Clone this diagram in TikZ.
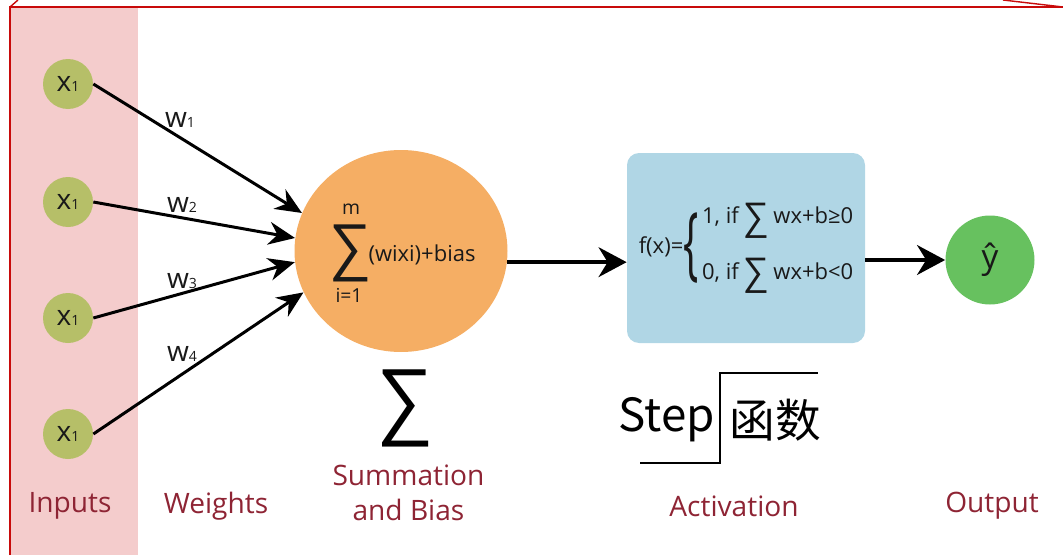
\documentclass[tikz,border=0pt]{standalone}
\usepackage{fontspec}
\setmainfont{Open Sans}
\newfontfamily\cjkfont{Noto Sans CJK SC}
\usepackage{xcolor}
\usetikzlibrary{arrows.meta, positioning, calc, shapes.geometric}

\definecolor{inputgreen}{RGB}{182,191,104}
\definecolor{sumorange}{RGB}{245,174,100}
\definecolor{actblue}{RGB}{176,214,229}
\definecolor{outgreen}{RGB}{103,193,95}
\definecolor{bandpink}{RGB}{244,204,204}
\definecolor{framered}{RGB}{200,10,10}
\definecolor{capred}{RGB}{142,36,52}

\newcommand{\idx}[1]{{\fontsize{8}{8}\selectfont #1}}
\newcommand{\bsum}{\raisebox{-3pt}{\fontsize{21}{21}\selectfont ∑}}
\newcommand{\bigbrace}{\scalebox{0.5}[1]{\fontsize{46}{46}\selectfont\{}}

\begin{document}
\begin{tikzpicture}[
    >={Stealth[length=15pt,width=13pt]},
    arrow/.style={->,line width=1.7pt},
    bigarrow/.style={-{Stealth[length=16pt,width=17pt]},line width=1.9pt},
    input/.style={circle,fill=inputgreen,minimum size=10mm,inner sep=0pt,font=\fontsize{16}{16}\selectfont,text=black!90},
    weight/.style={font=\fontsize{16}{16}\selectfont,text=black!90},
    stage/.style={font=\fontsize{16}{20}\selectfont,text=capred,align=center},
    sumtext/.style={font=\fontsize{12.5}{12.5}\selectfont,text=black!90,inner sep=0pt}
]

\useasboundingbox (0,0) rectangle (21.26,11.1);

%--------------------------------------------------------------------
% Background band and frame
%--------------------------------------------------------------------
\fill[bandpink] (0.2,0) rectangle (2.76,10.96);
\draw[framered,line width=1.7pt] (0.2,0) -- (0.2,10.96) -- (21.26,10.96);
\draw[framered,line width=0.8pt] (0.2,10.96) -- (0.36,11.1);
\draw[framered,line width=0.8pt] (20.06,11.1) -- (21.26,10.96);

%--------------------------------------------------------------------
% Inputs and weights
%--------------------------------------------------------------------
\node[input] (x1) at (1.36,9.42) {x\idx{1}};
\node[input] (x2) at (1.36,7.06) {x\idx{1}};
\node[input] (x3) at (1.36,4.74) {x\idx{1}};
\node[input] (x4) at (1.36,2.42) {x\idx{1}};

\node[weight] (w1) at (3.6,8.7)   {w\idx{1}};
\node[weight] (w2) at (3.64,7.0)  {w\idx{2}};
\node[weight] (w3) at (3.64,5.48) {w\idx{3}};
\node[weight] (w4) at (3.64,4.02) {w\idx{4}};

%--------------------------------------------------------------------
% Summation and bias
%--------------------------------------------------------------------
\node[ellipse,fill=sumorange,minimum width=4.26cm,minimum height=4.04cm] (sum) at (8.02,6.08) {};

\node[sumtext,font=\fontsize{34}{34}\selectfont] (sumsig) at (7.0,6.04) {∑};
\node[sumtext,font=\fontsize{11}{11}\selectfont] (sumtop) at (7.02,6.92) {m};
\node[sumtext,font=\fontsize{11}{11}\selectfont] (sumbot) at (6.98,5.2) {i=1};
\node[sumtext] (sumterm) at (8.44,6.0) {(wixi)+bias};

\draw[arrow] (x1.east) -- (sum.159);
\draw[arrow] (x2.east) -- (sum.173);
\draw[arrow] (x3.east) -- (sum.186);
\draw[arrow] (x4.east) -- (sum.203);

\node[font=\fontsize{46}{46}\selectfont,text=black] (bigsig) at (8.1,2.94) {∑};

%--------------------------------------------------------------------
% Activation and output
%--------------------------------------------------------------------
\node[rectangle,rounded corners=0.24cm,fill=actblue,
      minimum width=4.76cm,minimum height=3.8cm,
      font=\fontsize{12.5}{15}\selectfont,text=black!90] (act) at (14.92,6.14) {%
  f(x)=$\vcenter{\hbox{\bigbrace}}\kern2pt\vcenter{\hbox{\begin{tabular}{@{}l@{}}
    1, if \bsum\ wx+b≥0\\[15pt]
    0, if \bsum\ wx+b<0
  \end{tabular}}}$};

\node[circle,fill=outgreen,minimum size=1.78cm,
      font=\fontsize{19}{19}\selectfont,text=black!90] (out) at (19.8,5.9) {ŷ};

\draw[bigarrow] (sum.-6) -- (sum.-6 -| act.west);
\draw[bigarrow] (act.east |- out.west) -- (out.west);

% step sketch under the activation box
\draw[line width=1.4pt] (12.8,1.84) -- (14.4,1.84) -- (14.4,3.64) -- (16.36,3.64);
\node[font=\cjkfont\fontsize{26}{26}\selectfont] (stepword) at (13.34,2.7) {Step};
\node[font=\cjkfont\fontsize{26}{26}\selectfont] (hanshu) at (15.5,2.7) {函数};

%--------------------------------------------------------------------
% Stage captions
%--------------------------------------------------------------------
\node[stage] (inputs)     at (1.4,0.98)   {Inputs};
\node[stage] (weights)    at (4.32,0.98)  {Weights};
\node[stage] (summation)  at (8.17,1.24)  {Summation\\and Bias};
\node[stage] (activation) at (14.68,0.98) {Activation};
\node[stage] (output)     at (19.84,0.98) {Output};

\end{tikzpicture}
\end{document}
